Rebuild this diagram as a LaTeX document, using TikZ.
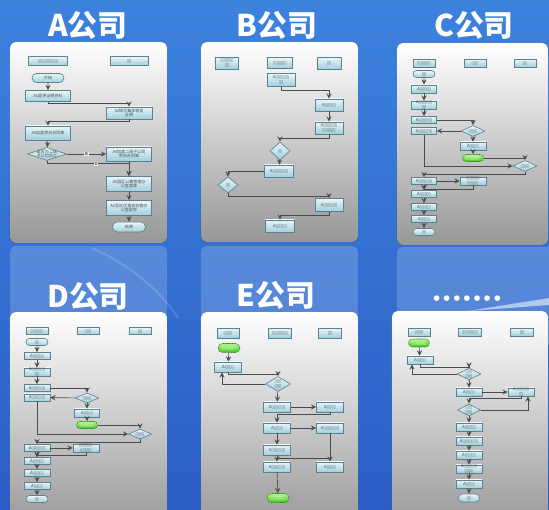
\documentclass[tikz,border=0pt]{standalone}
\usepackage{xcolor}
\usepackage{fontspec}
\usepackage{tikz}
\usetikzlibrary{shapes.geometric,shapes.misc,calc}
\newfontfamily\cjk{Noto Sans CJK SC}
\newfontfamily\symf{DejaVu Sans}
\newcommand\tinyfont{\fontsize{2.3}{2.7}\selectfont}

\definecolor{bgtop}{HTML}{3C82DD}
\definecolor{bgbot}{HTML}{2B5EC6}
\definecolor{cardgray}{HTML}{979797}
\definecolor{boxtop}{HTML}{EAF6FA}
\definecolor{boxbot}{HTML}{9ECFDE}
\definecolor{boxline}{HTML}{5E7F8B}
\definecolor{linegray}{HTML}{4B4B4B}
\definecolor{gotop}{HTML}{B8F590}
\definecolor{gobot}{HTML}{3CC81C}
\definecolor{goline}{HTML}{2E8A1E}

\tikzset{
  sz/.style 2 args={minimum width=#1*0.02cm,minimum height=#2*0.02cm},
  card/.style={rounded corners=3.5pt,top color=white,bottom color=cardgray},
  proc/.style={draw=boxline,line width=0.35pt,top color=boxtop,bottom color=boxbot,inner sep=0pt,align=center,font=\symf\tinyfont,text=black!70},
  term/.style={proc,rounded rectangle},
  dec/.style={proc,diamond},
  go/.style={proc,rounded rectangle,draw=goline,dash pattern=on 0.5pt off 0.35pt,top color=gotop,bottom color=gobot,text=white},
  zh/.style={font=\cjk\tinyfont},
  dectxt/.style={font=\symf\tinyfont,text=black!70,align=center},
  link/.style={draw=linegray,line width=0.35pt,->,>=stealth},
  bare/.style={draw=linegray,line width=0.35pt},
  ttl/.style={text=white,font=\cjk\bfseries\fontsize{17}{17}\selectfont},
  lbl/.style={fill=white,inner sep=0.3pt,font=\cjk\fontsize{2}{2.4}\selectfont},
}

\begin{document}
\begin{tikzpicture}[x=0.02cm,y=-0.02cm]
\useasboundingbox (0,0) rectangle (549,510);
\clip (0,0) rectangle (549,510);

% background
\fill[top color=bgtop,bottom color=bgbot] (0,0) rectangle (549,510);
\fill[white,opacity=0.18,rounded corners=3.5pt] (10,246) rectangle (167,345);
\fill[white,opacity=0.18,rounded corners=3.5pt] (201,246) rectangle (358,345);
\fill[white,opacity=0.18,rounded corners=3.5pt] (397,247) rectangle (560,345);
\draw[white,opacity=0.15,line width=1.2pt] (92,248) .. controls (130,265) and (160,290) .. (178,318);

% cards
\fill[card] (10,42) rectangle (167,243);
\fill[card] (201,42) rectangle (358,242);
\fill[card] (397,43) rectangle (548,245);
\fill[card] (10,312) rectangle (167,530);
\fill[card] (201,312) rectangle (358,530);
\fill[card] (392,311) rectangle (548,530);
\fill[white,opacity=0.55] (468,311) -- (549,298) -- (549,305) -- cycle;

% titles
\node[ttl] (tA) at (88,25) {A公司};
\node[ttl] (tB) at (277,25) {B公司};
\node[ttl] (tC) at (474,25) {C公司};
\node[ttl] (tD) at (88,296) {D公司};
\node[ttl] (tE) at (276,295) {E公司};
\node[text=white,font=\symf\bfseries\fontsize{9}{9}\selectfont] (tF) at (467,300) {•••••••};

% A card
\node[proc,sz={39}{9}] (Ah1) at (48,61) {▯▯▯▯▯▯▯▯▯};
\node[proc,sz={38}{9}] (Ah2) at (129,61) {▯▯};
\node[term,zh,sz={32}{9}] (As) at (48,78) {开始};
\node[proc,zh,sz={45}{11}] (A1) at (48,96) {A1提供证明资料};
\node[proc,zh,sz={46}{12}] (A2) at (129,113) {A2填写集体宿舍\\证明};
\node[proc,zh,sz={45}{14}] (A3) at (48,133) {A3加盖劳动合同章};
\node[dec,sz={39}{13},label={[zh,text=black!70,align=center]center:{是否为二级\\子公司员工}}] (Ad) at (47,154) {};
\node[proc,zh,sz={45}{14}] (A4) at (129,154) {A4加盖二级子公司\\劳动合同章};
\node[proc,zh,sz={45}{15}] (A5) at (129,184) {A5园区公寓管理办\\公室盖章};
\node[proc,zh,sz={45}{15}] (A6) at (129,208) {A6至社区报告协管办\\公室留存};
\node[term,zh,sz={33}{10}] (Ae) at (129,227) {结束};
\draw[link] (As) -- (A1);
\draw[link] (A1.south) -- ++(0,2) -| (A2.north);
\draw[link] (A2.south) -- ++(0,2) -| (A3.north);
\draw[link] (A3) -- (Ad);
\draw[link] (Ad) -- node[lbl] (Ay) {是} (A4);
\draw[link] (Ad.south) -- ++(0,3) -| node[lbl,pos=0.3] (An) {否} (A5.north);
\draw[link] (A4) -- (A5);
\draw[link] (A5) -- (A6);
\draw[link] (A6) -- (Ae);

% B card
\node[proc,sz={23}{12}] (Bh1) at (227,63) {▯▯▯▯▯▯\\▯▯};
\node[proc,sz={25}{11}] (Bh2) at (280,63) {▯▯▯▯▯▯};
\node[proc,sz={24}{12}] (Bh3) at (329,63) {▯▯};
\node[proc,sz={28}{13}] (B1) at (281,80) {A▯▯▯▯▯▯\\▯▯};
\node[proc,sz={28}{12}] (B2) at (329,105) {A▯▯▯▯▯};
\node[proc,sz={28}{12}] (B3) at (329,128) {A▯▯▯▯▯▯\\▯▯▯▯▯▯};
\node[dec,sz={20}{18},label={[dectxt]center:▯▯}] (Bd1) at (280,151) {};
\node[proc,sz={29}{12}] (B4) at (279,171) {A▯▯▯▯▯▯▯};
\node[dec,sz={20}{16},label={[dectxt]center:▯▯}] (Bd2) at (228,185) {};
\node[proc,sz={28}{13}] (B5) at (329,205) {A▯▯▯▯▯▯};
\node[proc,sz={29}{12}] (B6) at (280,226) {A▯▯▯▯▯};
\draw[link] (B1.south) -- ++(0,4) -| (B2.north);
\draw[link] (B2) -- (B3);
\draw[link] (B3.south) -- ++(0,4) -| (Bd1.north);
\draw[link] (Bd1) -- (B4);
\draw[link] (B4.west) -| (Bd2.north);
\draw[link] (Bd2.south) -- ++(0,3) -| (B5.north);
\draw[link] (B5.south) -- ++(0,4) -| (B6.north);

% C card
\node[proc,sz={22}{8}] (Ch1) at (424,63) {▯▯▯▯▯▯};
\node[proc,sz={22}{8}] (Ch2) at (475,63) {▯▯▯};
\node[proc,sz={22}{8}] (Ch3) at (525,63) {▯▯};
\node[term,sz={22}{7}] (Cs) at (424,74) {▯▯};
\node[proc,sz={25}{8}] (C1) at (424,89) {A▯▯▯▯▯};
\node[proc,sz={25}{8}] (C2) at (424,105) {A▯▯▯▯▯▯\\▯▯};
\node[proc,sz={25}{7}] (C3) at (424,120) {A▯▯▯▯▯▯};
\node[proc,sz={25}{7}] (C4) at (424,131) {A▯▯▯▯▯▯};
\node[dec,sz={24}{11},label={[dectxt]center:▯▯▯▯}] (Cd1) at (473,131) {};
\node[proc,sz={26}{8}] (C5) at (473,146) {A▯▯▯▯};
\node[go,sz={21}{7}] (Cg) at (473,158) {▯▯▯▯▯▯};
\node[dec,sz={24}{11},label={[dectxt]center:▯▯▯▯}] (Cd2) at (525,166) {};
\node[proc,sz={25}{7}] (C6) at (424,181) {A▯▯▯▯▯▯};
\node[proc,sz={26}{7}] (C7) at (473,181) {▯▯▯▯▯▯\\▯▯▯▯▯};
\node[proc,sz={25}{7}] (C8) at (424,194) {A▯▯▯▯▯};
\node[proc,sz={25}{7}] (C9) at (424,207) {A▯▯▯▯▯};
\node[proc,sz={25}{7}] (C10) at (424,219) {A▯▯▯▯};
\node[term,sz={22}{7}] (Ce) at (424,232) {▯▯};
\draw[link] (Cs) -- (C1);
\draw[link] (C1) -- (C2);
\draw[link] (C2) -- (C3);
\draw[link] (C3.east) -| (Cd1.north);
\draw[link] (Cd1) -- (C4);
\draw[link] (Cd1) -- (C5);
\draw[link] (C5) -- (Cg);
\draw[link] (Cg.east) -| (Cd2.north);
\draw[link] (C4.south) |- (Cd2.west);
\draw[link] (Cd2.south) -- ++(0,3) -| (C6.north);
\draw[link] (C6) -- (C7);
\draw[link] (C7.south) -- ++(0,4) -| (C8.north);
\draw[link] (C6) -- (C8);
\draw[link] (C8) -- (C9);
\draw[link] (C9) -- (C10);
\draw[link] (C10) -- (Ce);

% D card
\node[proc,sz={22}{7}] (Dh1) at (37,331) {▯▯▯▯▯▯};
\node[proc,sz={22}{7}] (Dh2) at (88,331) {▯▯▯};
\node[proc,sz={22}{7}] (Dh3) at (140,331) {▯▯};
\node[term,sz={22}{7}] (Ds) at (37,342) {▯▯};
\node[proc,sz={26}{7}] (D1) at (37,356) {A▯▯▯▯▯};
\node[proc,sz={26}{8}] (D2) at (37,372) {A▯▯▯▯▯▯\\▯▯};
\node[proc,sz={26}{7}] (D3) at (37,388) {A▯▯▯▯▯▯};
\node[proc,sz={26}{7}] (D4) at (37,397.5) {A▯▯▯▯▯▯};
\node[dec,sz={24}{10},label={[dectxt]center:▯▯▯▯}] (Dd1) at (87,398) {};
\node[proc,sz={25}{8}] (D5) at (87,413) {A▯▯▯▯};
\node[go,sz={21}{7}] (Dg) at (87,425) {▯▯▯▯▯▯};
\node[dec,sz={23}{10},label={[dectxt]center:▯▯▯▯}] (Dd2) at (140,434) {};
\node[proc,sz={26}{7}] (D6) at (37,448) {A▯▯▯▯▯▯};
\node[proc,sz={26}{7}] (D7) at (86,448) {▯▯▯▯▯▯\\▯▯▯▯▯};
\node[proc,sz={26}{7}] (D8) at (37,461) {A▯▯▯▯▯};
\node[proc,sz={26}{7}] (D9) at (37,473) {A▯▯▯▯▯};
\node[proc,sz={26}{7}] (D10) at (37,486) {A▯▯▯▯};
\node[term,sz={22}{7}] (De) at (37,499) {▯▯};
\draw[link] (Ds) -- (D1);
\draw[link] (D1) -- (D2);
\draw[link] (D2) -- (D3);
\draw[link] (D3.east) -| (Dd1.north);
\draw[link] (Dd1) -- (D4);
\draw[link] (Dd1) -- (D5);
\draw[link] (D5) -- (Dg);
\draw[link] (Dg.east) -| (Dd2.north);
\draw[link] (D4.south) |- (Dd2.west);
\draw[link] (Dd2.south) -- ++(0,3) -| (D6.north);
\draw[link] (D6) -- (D7);
\draw[link] (D7.south) -- ++(0,3) -| (D8.north);
\draw[link] (D6) -- (D8);
\draw[link] (D8) -- (D9);
\draw[link] (D9) -- (D10);
\draw[link] (D10) -- (De);

% E card
\node[proc,sz={22}{10}] (Eh1) at (228,333) {▯▯▯▯};
\node[proc,sz={23}{10}] (Eh2) at (280,333) {▯▯▯▯▯▯▯};
\node[proc,sz={23}{10}] (Eh3) at (330,333) {▯▯};
\node[go,sz={22}{9}] (Eg1) at (229,348) {▯▯▯▯▯▯};
\node[proc,sz={27}{10}] (E1) at (228,367) {A▯▯▯▯};
\node[dec,sz={25}{15},label={[dectxt]center:{▯▯▯\\▯▯▯}}] (Ed) at (278,384) {};
\node[proc,sz={27}{10}] (E2) at (277,407) {A▯▯▯▯▯▯};
\node[proc,sz={27}{10}] (E3) at (330,407) {A▯▯▯▯};
\node[proc,sz={27}{10}] (E4) at (277,428) {A▯▯▯▯};
\node[proc,sz={27}{10}] (E5) at (330,428) {A▯▯▯▯▯▯▯};
\node[proc,sz={27}{10}] (E6) at (277,450) {A▯▯▯▯▯▯};
\node[proc,sz={27}{10}] (E7) at (277,467) {A▯▯▯▯▯▯};
\node[proc,sz={27}{10}] (E8) at (330,467) {A▯▯▯▯};
\node[go,sz={22}{9}] (Eg2) at (278,498) {▯▯▯▯▯▯};
\coordinate (Ej) at ($(E6.south)!0.5!(E7.north)$);
\draw[link] (Eg1) -- (E1);
\draw[link] (E1.south) -- ++(0,2) -| (Ed.north);
\draw[link] (Ed.west) -| ([xshift=-0.12cm]E1.south);
\draw[link] (Ed) -- (E2);
\draw[link] (E2) -- (E3);
\draw[link] (E3.south) -- ++(0,2) -| (E4.north);
\draw[link] (E4) -- (E5);
\draw[link] (E4) -- (E6);
\draw[link] (E5) -- (E8);
\draw[bare] (E5.south) |- (Ej);
\draw[link] (E6) -- (E7);
\draw[link] (E7) -- (Eg2);

% F card
\node[proc,sz={22}{8}] (Fh1) at (419,332) {▯▯▯▯};
\node[proc,sz={23}{8}] (Fh2) at (470,332) {▯▯▯▯▯▯▯};
\node[proc,sz={23}{8}] (Fh3) at (522,332) {▯▯};
\node[go,sz={21}{8}] (Fg) at (419,343) {▯▯▯▯▯▯};
\node[proc,sz={26}{8}] (F1) at (420,360) {A▯▯▯▯};
\node[dec,sz={24}{12},label={[dectxt]center:{▯▯▯\\▯▯▯}}] (Fd1) at (469,374) {};
\node[proc,sz={26}{8}] (F2) at (469,392) {A▯▯▯▯};
\node[proc,sz={26}{8}] (F3) at (521,392) {A▯▯▯▯▯▯\\▯▯};
\node[dec,sz={23}{12},label={[dectxt]center:{▯▯▯\\▯▯▯}}] (Fd2) at (469,410) {};
\node[proc,sz={26}{8}] (F4) at (469,427) {A▯▯▯▯▯};
\node[proc,sz={26}{8}] (F5) at (469,441) {A▯▯▯▯▯▯▯};
\node[proc,sz={26}{8}] (F6) at (469,455) {A▯▯▯▯▯};
\node[proc,sz={26}{8}] (F7) at (469,469) {A▯▯▯▯▯▯\\▯▯▯▯};
\node[proc,sz={26}{8}] (F8) at (469,484) {A▯▯▯▯};
\node[term,sz={21}{8}] (Fe) at (469,498) {▯▯};
\draw[link] (Fg) -- (F1);
\draw[link] (F1.south) -- ++(0,3) -| (Fd1.north);
\draw[link] (Fd1.west) -| ([xshift=-0.16cm]F1.south);
\draw[link] (Fd1) -- (F2);
\draw[link] (F2) -- (F3);
\draw[link] (F3.south) -- ++(0,2) -| (Fd2.north);
\draw[link] (Fd2.east) -| ([xshift=0.14cm]F3.south);
\draw[link] (Fd2) -- (F4);
\draw[link] (F4) -- (F5);
\draw[link] (F5) -- (F6);
\draw[link] (F6) -- (F7);
\draw[link] (F7) -- (F8);
\draw[link] (F8) -- (Fe);
\end{tikzpicture}
\end{document}
